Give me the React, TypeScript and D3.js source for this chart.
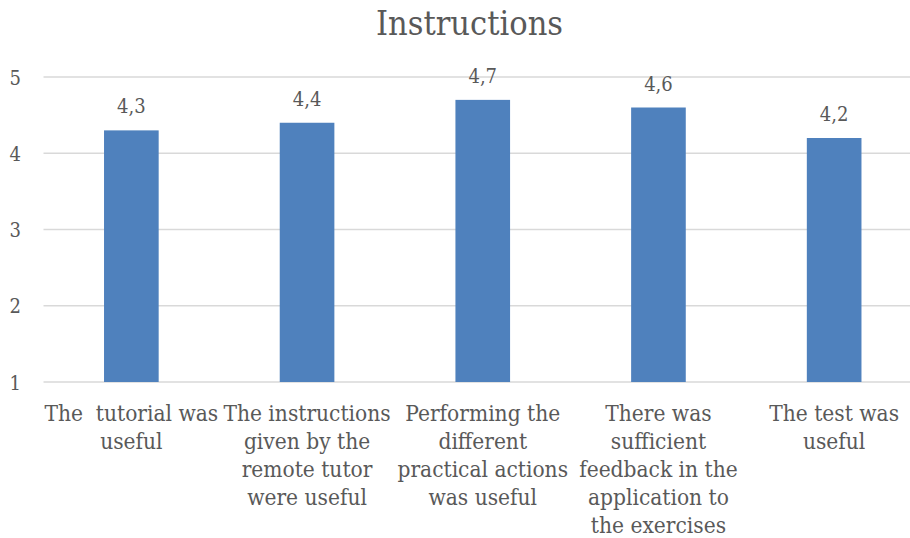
import React from "react";
import * as d3 from "d3";

const title = "Instructions";
const categories = ["c1", "c2", "c3", "c4", "c5"];
const categoryLines: string[][] = [
  ["The  tutorial was", "useful"],
  ["The instructions", "given by the", "remote tutor", "were useful"],
  ["Performing the", "different", "practical actions", "was useful"],
  ["There was", "sufficient", "feedback in the", "application to", "the exercises"],
  ["The test was", "useful"],
];
const values = [4.3, 4.4, 4.7, 4.6, 4.2];
const valueLabels = ["4,3", "4,4", "4,7", "4,6", "4,2"];
const yTicks = [1, 2, 3, 4, 5];

const W = 910;
const H = 538;
const FONT = "'DejaVu Serif Condensed', 'DejaVu Serif', serif";
const TEXT = "#595959";
const BAR = "#4F81BD";
const GRID = "#D9D9D9";

export default function App() {
  const x = d3
    .scaleBand<string>()
    .domain(categories)
    .range([43.5, 922])
    .paddingInner(0.689)
    .paddingOuter(0.3445);
  const y = d3.scaleLinear().domain([1, 5]).range([382, 77]);
  const half = x.step() / 2;

  return (
    <svg
      width={W}
      height={H}
      style={{ position: "absolute", left: 0, top: 0, background: "#fff" }}
      fontFamily={FONT}
      fontStretch="condensed"
    >
      <rect width={W} height={H} fill="#fff" />
      <text x={469.5} y={35} textAnchor="middle" fontSize={34} fill={TEXT}>
        {title}
      </text>
      {yTicks.map((t) => (
        <g key={t}>
          <line x1={43.5} x2={922} y1={y(t)} y2={y(t)} stroke={GRID} strokeWidth={1.3} />
          <text x={21} y={y(t) + 7.5} textAnchor="end" fontSize={20} fill={TEXT}>
            {t}
          </text>
        </g>
      ))}
      {categories.map((c, i) => {
        const bx = x(c)!;
        const cx = bx + x.bandwidth() / 2;
        return (
          <g key={c}>
            <rect
              x={bx}
              y={y(values[i])}
              width={x.bandwidth()}
              height={y(1) - y(values[i])}
              fill={BAR}
            />
            <text x={cx} y={y(values[i]) - 17} textAnchor="middle" fontSize={20} fill={TEXT}>
              {valueLabels[i]}
            </text>
            {categoryLines[i].map((ln, j) => (
              <text
                key={j}
                x={(bx - (x.step() - x.bandwidth()) / 2) + half}
                y={421 + j * 28.1}
                textAnchor="middle"
                fontSize={22.5}
                fill={TEXT}
                style={{ whiteSpace: "pre" }}
              >
                {ln}
              </text>
            ))}
          </g>
        );
      })}
    </svg>
  );
}
